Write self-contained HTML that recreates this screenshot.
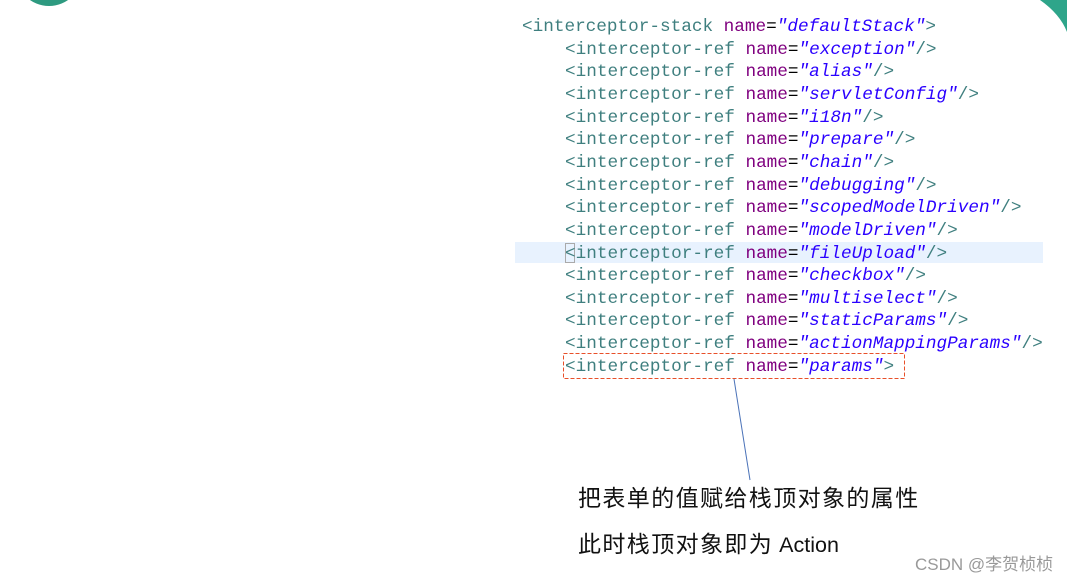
<!DOCTYPE html>
<html><head><meta charset="utf-8"><style>
body{margin:0;width:1067px;height:584px;background:#fff;position:relative;overflow:hidden}
.c{position:absolute;left:0;top:0;font-family:"Liberation Mono",monospace;font-size:17.7px;line-height:22.65px;white-space:pre;color:#3f7f7f}
.c div{position:absolute;left:0;white-space:pre}
.a{color:#7f007f}.v{color:#2a00ff;font-style:italic}.e{color:#000}
.t{position:absolute;font-family:"Liberation Sans","Noto Sans CJK SC",sans-serif;color:#111}
</style></head><body>
<div style="position:absolute;left:16px;top:-60px;width:66px;height:66px;border-radius:50%;background:#2e9a80"></div>
<svg style="position:absolute;left:0;top:0" width="1067" height="584">
<path d="M1040 0 Q1060 14 1067 32 L1067 0 Z" fill="#2ea58a"/>
<rect x="515" y="242" width="528" height="21" fill="#e8f2fe"/>
<rect x="565.5" y="243.5" width="9" height="19" fill="none" stroke="#aaa" stroke-width="1"/>
<rect x="563.5" y="353.5" width="341" height="25" fill="none" stroke="#e8502a" stroke-width="1" stroke-dasharray="4,2"/>
<line x1="734" y1="379" x2="750" y2="480" stroke="#4a72b8" stroke-width="1"/>
</svg>
<div class="c" style="left:522px;top:16px">
<div style="top:0">&lt;interceptor-stack <span class="a">name</span><span class="e">=</span><span class="v">"defaultStack"</span>&gt;</div>
<div style="left:43px;top:22.65px">&lt;interceptor-ref <span class="a">name</span><span class="e">=</span><span class="v">"exception"</span>/&gt;</div>
<div style="left:43px;top:45.3px">&lt;interceptor-ref <span class="a">name</span><span class="e">=</span><span class="v">"alias"</span>/&gt;</div>
<div style="left:43px;top:67.95px">&lt;interceptor-ref <span class="a">name</span><span class="e">=</span><span class="v">"servletConfig"</span>/&gt;</div>
<div style="left:43px;top:90.6px">&lt;interceptor-ref <span class="a">name</span><span class="e">=</span><span class="v">"i18n"</span>/&gt;</div>
<div style="left:43px;top:113.25px">&lt;interceptor-ref <span class="a">name</span><span class="e">=</span><span class="v">"prepare"</span>/&gt;</div>
<div style="left:43px;top:135.9px">&lt;interceptor-ref <span class="a">name</span><span class="e">=</span><span class="v">"chain"</span>/&gt;</div>
<div style="left:43px;top:158.55px">&lt;interceptor-ref <span class="a">name</span><span class="e">=</span><span class="v">"debugging"</span>/&gt;</div>
<div style="left:43px;top:181.2px">&lt;interceptor-ref <span class="a">name</span><span class="e">=</span><span class="v">"scopedModelDriven"</span>/&gt;</div>
<div style="left:43px;top:203.85px">&lt;interceptor-ref <span class="a">name</span><span class="e">=</span><span class="v">"modelDriven"</span>/&gt;</div>
<div style="left:43px;top:226.5px">&lt;interceptor-ref <span class="a">name</span><span class="e">=</span><span class="v">"fileUpload"</span>/&gt;</div>
<div style="left:43px;top:249.15px">&lt;interceptor-ref <span class="a">name</span><span class="e">=</span><span class="v">"checkbox"</span>/&gt;</div>
<div style="left:43px;top:271.8px">&lt;interceptor-ref <span class="a">name</span><span class="e">=</span><span class="v">"multiselect"</span>/&gt;</div>
<div style="left:43px;top:294.45px">&lt;interceptor-ref <span class="a">name</span><span class="e">=</span><span class="v">"staticParams"</span>/&gt;</div>
<div style="left:43px;top:317.1px">&lt;interceptor-ref <span class="a">name</span><span class="e">=</span><span class="v">"actionMappingParams"</span>/&gt;</div>
<div style="left:43px;top:339.75px">&lt;interceptor-ref <span class="a">name</span><span class="e">=</span><span class="v">"params"</span>&gt;</div>
</div>
<div class="t" style="left:578px;top:484px;font-size:23px;letter-spacing:1.4px;line-height:28px">把表单的值赋给栈顶对象的属性</div>
<div class="t" style="left:578px;top:530px;font-size:23px;letter-spacing:1.4px;line-height:28px">此时栈顶对象即为<span style="letter-spacing:0;font-size:21.5px"> Action</span></div>
<div class="t" style="left:915px;top:554px;font-size:17px;color:#999;line-height:22px">CSDN @李贺桢桢</div>
</body></html>
